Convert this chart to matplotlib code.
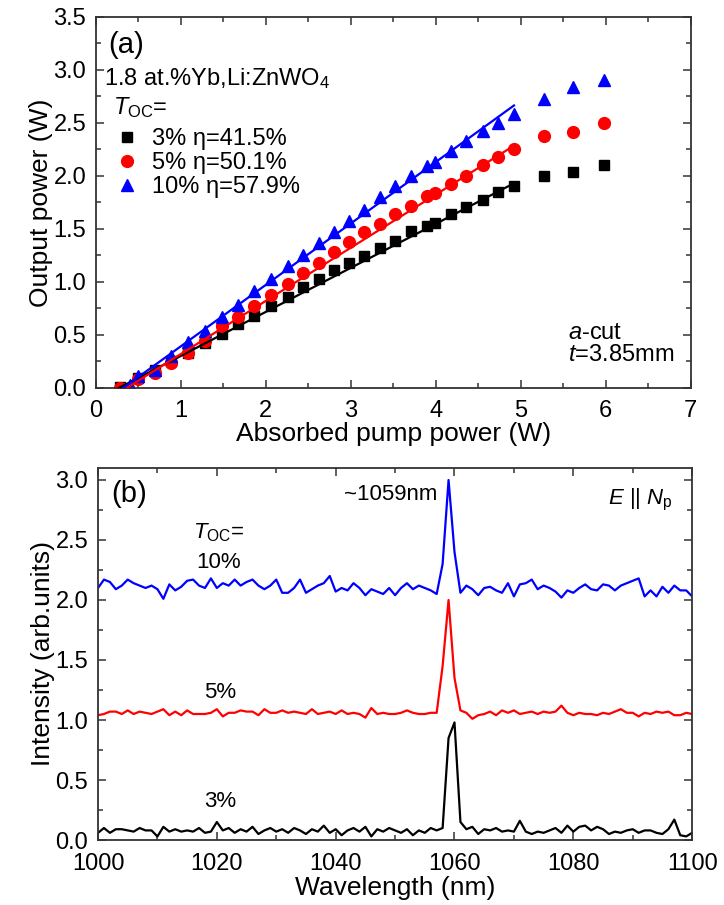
import numpy as np
import matplotlib.pyplot as plt
from matplotlib.ticker import MultipleLocator

plt.rcParams['font.family'] = ['Liberation Sans', 'DejaVu Sans']
plt.rcParams['mathtext.fontset'] = 'custom'
plt.rcParams['mathtext.rm'] = 'Liberation Sans'
plt.rcParams['mathtext.it'] = 'Liberation Sans:italic'

# (a) 输出功率 vs 吸收泵浦功率
pump = [0.28, 0.50, 0.69, 0.88, 1.08, 1.28, 1.48, 1.67, 1.86, 2.06,
        2.26, 2.44, 2.62, 2.80, 2.98, 3.15, 3.34, 3.52, 3.71, 3.90,
        3.99, 4.18, 4.36, 4.56, 4.73, 4.92, 5.27, 5.62, 5.98]
pump_blue = [0.40] + pump[1:]
p_3 = [0.01, 0.09, 0.17, 0.25, 0.33, 0.42, 0.51, 0.60, 0.68, 0.77,
       0.86, 0.95, 1.03, 1.11, 1.18, 1.24, 1.32, 1.39, 1.48, 1.53,
       1.56, 1.64, 1.71, 1.77, 1.85, 1.90, 2.00, 2.04, 2.10]
p_5 = [0.00, 0.08, 0.14, 0.24, 0.33, 0.44, 0.58, 0.67, 0.77, 0.88,
       0.98, 1.08, 1.18, 1.28, 1.38, 1.47, 1.55, 1.64, 1.72, 1.81,
       1.84, 1.92, 2.00, 2.10, 2.18, 2.25, 2.38, 2.41, 2.50]
p_10 = [0.03, 0.11, 0.17, 0.30, 0.43, 0.54, 0.67, 0.78, 0.91, 1.03,
        1.15, 1.25, 1.37, 1.47, 1.57, 1.68, 1.80, 1.90, 2.00, 2.09,
        2.13, 2.23, 2.33, 2.42, 2.50, 2.58, 2.72, 2.84, 2.90]

# 线性拟合: 斜率效率与阈值
eta = [0.415, 0.501, 0.579]
p_th = [0.27, 0.36, 0.32]
fit_end = 4.92
labels_a = ['3% η=41.5%', '5% η=50.1%', '10% η=57.9%']

# (b) 光谱
wl = np.arange(1000, 1101, 1)
s_10 = [2.10, 2.17, 2.15, 2.09, 2.12, 2.17, 2.14, 2.12, 2.10, 2.12,
        2.09, 2.01, 2.13, 2.08, 2.11, 2.16, 2.17, 2.12, 2.10, 2.18,
        2.10, 2.14, 2.12, 2.17, 2.12, 2.15, 2.17, 2.12, 2.09, 2.12,
        2.17, 2.06, 2.06, 2.10, 2.17, 2.06, 2.09, 2.12, 2.14, 2.20,
        2.07, 2.10, 2.08, 2.14, 2.10, 2.04, 2.09, 2.07, 2.05, 2.10,
        2.04, 2.10, 2.14, 2.09, 2.12, 2.10, 2.08, 2.05, 2.30, 3.00,
        2.40, 2.06, 2.12, 2.09, 2.04, 2.10, 2.11, 2.08, 2.06, 2.14,
        2.03, 2.13, 2.14, 2.17, 2.09, 2.12, 2.10, 2.07, 2.02, 2.08,
        2.06, 2.10, 2.13, 2.09, 2.08, 2.13, 2.12, 2.08, 2.12, 2.14,
        2.16, 2.18, 2.03, 2.08, 2.03, 2.11, 2.06, 2.12, 2.08, 2.08,
        2.03]
s_5 = [1.04, 1.05, 1.07, 1.07, 1.05, 1.08, 1.05, 1.07, 1.06, 1.05,
       1.07, 1.09, 1.04, 1.07, 1.04, 1.08, 1.05, 1.05, 1.05, 1.06,
       1.09, 1.03, 1.06, 1.06, 1.08, 1.07, 1.07, 1.04, 1.09, 1.06,
       1.06, 1.08, 1.06, 1.07, 1.06, 1.05, 1.09, 1.05, 1.06, 1.07,
       1.05, 1.08, 1.05, 1.06, 1.05, 1.02, 1.10, 1.05, 1.06, 1.05,
       1.05, 1.06, 1.08, 1.06, 1.05, 1.05, 1.06, 1.06, 1.45, 2.00,
       1.35, 1.08, 1.06, 1.01, 1.04, 1.05, 1.07, 1.04, 1.08, 1.06,
       1.08, 1.05, 1.06, 1.07, 1.05, 1.07, 1.06, 1.07, 1.12, 1.06,
       1.04, 1.06, 1.05, 1.05, 1.04, 1.06, 1.05, 1.07, 1.09, 1.06,
       1.06, 1.03, 1.06, 1.05, 1.07, 1.06, 1.07, 1.04, 1.04, 1.06,
       1.05]
s_3 = [0.06, 0.10, 0.06, 0.09, 0.09, 0.08, 0.07, 0.10, 0.08, 0.08,
       0.03, 0.11, 0.07, 0.09, 0.07, 0.08, 0.07, 0.10, 0.06, 0.07,
       0.15, 0.08, 0.10, 0.06, 0.09, 0.07, 0.11, 0.05, 0.08, 0.10,
       0.07, 0.09, 0.06, 0.10, 0.08, 0.05, 0.09, 0.07, 0.12, 0.06,
       0.09, 0.04, 0.08, 0.10, 0.07, 0.11, 0.03, 0.09, 0.07, 0.10,
       0.08, 0.06, 0.09, 0.04, 0.08, 0.06, 0.10, 0.08, 0.10, 0.85,
       0.98, 0.15, 0.09, 0.11, 0.05, 0.09, 0.08, 0.10, 0.07, 0.08,
       0.07, 0.16, 0.07, 0.05, 0.07, 0.06, 0.08, 0.10, 0.06, 0.12,
       0.07, 0.11, 0.12, 0.08, 0.11, 0.09, 0.05, 0.07, 0.06, 0.08,
       0.09, 0.06, 0.08, 0.08, 0.06, 0.05, 0.09, 0.17, 0.04, 0.03,
       0.06]

colors = ['black', 'red', 'blue']
markers = ['s', 'o', '^']
msizes = [7.5, 8.5, 9]

fig = plt.figure(figsize=(7.24, 9.05), dpi=100)
ax1 = fig.add_axes([0.1326, 0.5713, 0.8214, 0.4102])
ax2 = fig.add_axes([0.1354, 0.0718, 0.8206, 0.4111])

# ---- (a) ----
handles = []
for xs, ys, c, m, ms, lab in zip([pump, pump, pump_blue], [p_3, p_5, p_10],
                                 colors, markers, msizes, labels_a):
    h, = ax1.plot(xs, ys, ls='none', marker=m, ms=ms, color=c, label=lab,
                  zorder=2)
    handles.append(h)
for e, th, c in zip(eta, p_th, colors):
    xf = np.array([th, fit_end])
    ax1.plot(xf, e * (xf - th), color=c, lw=1.6, zorder=3)

ax1.set_xlim(0, 7)
ax1.set_ylim(0, 3.5)
ax1.xaxis.set_major_locator(MultipleLocator(1))
ax1.xaxis.set_minor_locator(MultipleLocator(0.5))
ax1.set_yticks([0, 0.5, 1, 1.5, 2, 2.5, 3, 3.5])
ax1.set_yticklabels(['0.0', '0.5', '1.0', '1.5', '2.0', '2.5', '3.0', '3.5'])
ax1.yaxis.set_minor_locator(MultipleLocator(0.25))
ax1.set_xlabel('Absorbed pump power (W)', fontsize=19, labelpad=0)
ax1.set_ylabel('Output power (W)', fontsize=19, labelpad=0.5)

ax1.text(0.14, 3.23, '(a)', fontsize=21, va='center')
ax1.text(0.09, 2.92, '1.8 at.%Yb,Li:ZnWO$_4$', fontsize=17, va='center')
ax1.text(0.2, 2.64, '$T_{\\rm OC}$=', fontsize=17, va='center')
ax1.legend(handles=handles, loc='upper left', bbox_to_anchor=(0.03, 0.70),
           frameon=False, fontsize=17, borderpad=0, borderaxespad=0,
           labelspacing=0.08, handlelength=1.15, handletextpad=0.45)
ax1.text(5.55, 0.52, '$a$-cut', fontsize=17, va='center')
ax1.text(5.55, 0.31, '$t$=3.85mm', fontsize=17, va='center')

# ---- (b) ----
for s, c in zip([s_3, s_5, s_10], colors):
    ax2.plot(wl, s, color=c, lw=1.6)
ax2.set_xlim(1000, 1100)
ax2.set_ylim(0, 3.1)
ax2.xaxis.set_major_locator(MultipleLocator(20))
ax2.xaxis.set_minor_locator(MultipleLocator(10))
ax2.set_yticks([0, 0.5, 1, 1.5, 2, 2.5, 3])
ax2.set_yticklabels(['0.0', '0.5', '1.0', '1.5', '2.0', '2.5', '3.0'])
ax2.yaxis.set_minor_locator(MultipleLocator(0.25))
ax2.set_xlabel('Wavelength (nm)', fontsize=19, labelpad=1)
ax2.set_ylabel('Intensity (arb.units)', fontsize=19, labelpad=0.5)

ax2.text(1002.3, 2.88, '(b)', fontsize=21, va='center')
ax2.text(1049.2, 2.88, '~1059nm', fontsize=16, ha='center', va='center')
ax2.text(1096.8, 2.83, '$E$ || $N_{\\rm p}$', fontsize=16, ha='right', va='center')
ax2.text(1020.3, 2.56, '$T_{\\rm OC}$=', fontsize=16, ha='center', va='center')
ax2.text(1020.3, 2.31, '10%', fontsize=16, ha='center', va='center')
ax2.text(1020.5, 1.23, '5%', fontsize=16, ha='center', va='center')
ax2.text(1020.5, 0.32, '3%', fontsize=16, ha='center', va='center')

for ax in (ax1, ax2):
    ax.tick_params(which='both', direction='in', top=True, right=True,
                   labelsize=17, width=1.1, color='#333333')
    ax.tick_params(which='major', length=6)
    ax.tick_params(which='minor', length=3.5)
    ax.tick_params(axis='x', which='major', pad=9)
    ax.tick_params(axis='y', which='major', pad=7)
    for sp in ax.spines.values():
        sp.set_linewidth(1.3)
        sp.set_color('#333333')

fig.savefig('out.png', dpi=100)
